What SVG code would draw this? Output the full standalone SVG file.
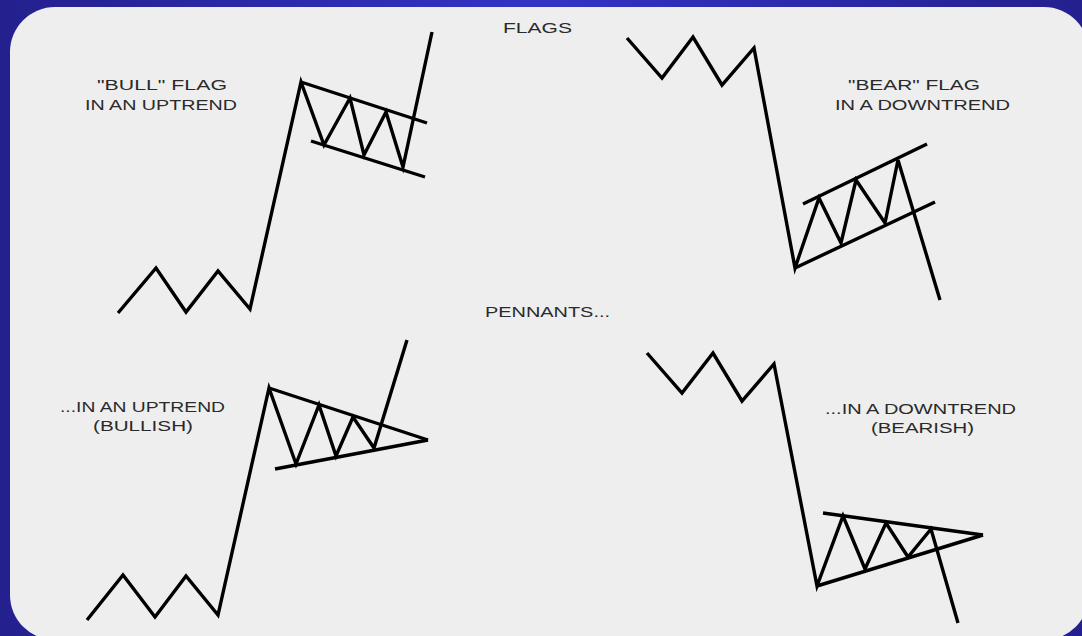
<svg xmlns="http://www.w3.org/2000/svg" width="1082" height="636" viewBox="0 0 1082 636">
  <defs>
    <linearGradient id="bg" x1="0" y1="0" x2="1" y2="0">
      <stop offset="0" stop-color="#24208e"/>
      <stop offset="0.5" stop-color="#3333c6"/>
      <stop offset="1" stop-color="#24208e"/>
    </linearGradient>
    <style>
      .ln { fill: none; stroke: #000; stroke-width: 3.4; stroke-linejoin: miter; stroke-linecap: butt; }
      .tx { font-family: "Liberation Sans", Arial, sans-serif; font-size: 15px; fill: #2a2a2a; }
    </style>
  </defs>
  <rect x="0" y="0" width="1082" height="636" fill="url(#bg)"/>
  <rect x="10" y="7" width="1079" height="633" rx="45" ry="45" fill="#eeeeee"/>

  <g id="labels">
    <text class="tx" x="503" y="33" textLength="69" lengthAdjust="spacingAndGlyphs">FLAGS</text>
    <text class="tx" x="485" y="317" textLength="125" lengthAdjust="spacingAndGlyphs">PENNANTS...</text>
  </g>

  <g id="bull-flag">
    <text class="tx" x="97" y="90" textLength="130" lengthAdjust="spacingAndGlyphs">"BULL" FLAG</text>
    <text class="tx" x="85" y="110" textLength="152" lengthAdjust="spacingAndGlyphs">IN AN UPTREND</text>
    <polyline class="ln" points="118,313 156,268 186,312 218,271 250,309 301,82 324,145 350,98 364,155 386,112 403,167 432,32"/>
    <line class="ln" x1="301" y1="82" x2="427" y2="123"/>
    <line class="ln" x1="311" y1="141" x2="425" y2="177"/>
  </g>

  <g id="bear-flag">
    <text class="tx" x="848" y="90" textLength="132" lengthAdjust="spacingAndGlyphs">"BEAR" FLAG</text>
    <text class="tx" x="835" y="110" textLength="175" lengthAdjust="spacingAndGlyphs">IN A DOWNTREND</text>
    <polyline class="ln" points="627,38 662,78 693,37 722,85 754,48 795,268 819,198 841,243 856,180 885,223 898,160 940,300"/>
    <line class="ln" x1="803" y1="204" x2="927" y2="144"/>
    <line class="ln" x1="795" y1="268" x2="935" y2="202"/>
  </g>

  <g id="bull-pennant">
    <text class="tx" x="60" y="412" textLength="165" lengthAdjust="spacingAndGlyphs">...IN AN UPTREND</text>
    <text class="tx" x="93" y="431" textLength="100" lengthAdjust="spacingAndGlyphs">(BULLISH)</text>
    <polyline class="ln" points="87,620 123,575 155,617 186,576 218,615 269,388 296,464 319,405 336,456 353,417 374,448 407,340"/>
    <line class="ln" x1="269" y1="388" x2="428" y2="440"/>
    <line class="ln" x1="275" y1="469" x2="428" y2="440"/>
  </g>

  <g id="bear-pennant">
    <text class="tx" x="825" y="414" textLength="191" lengthAdjust="spacingAndGlyphs">...IN A DOWNTREND</text>
    <text class="tx" x="871" y="433" textLength="103" lengthAdjust="spacingAndGlyphs">(BEARISH)</text>
    <polyline class="ln" points="647,353 682,393 713,353 742,401 774,364 817,586 843,516 865,569 886,523 908,557 931,529 958,623"/>
    <line class="ln" x1="823" y1="513" x2="983" y2="535"/>
    <line class="ln" x1="817" y1="586" x2="983" y2="535"/>
  </g>
</svg>
